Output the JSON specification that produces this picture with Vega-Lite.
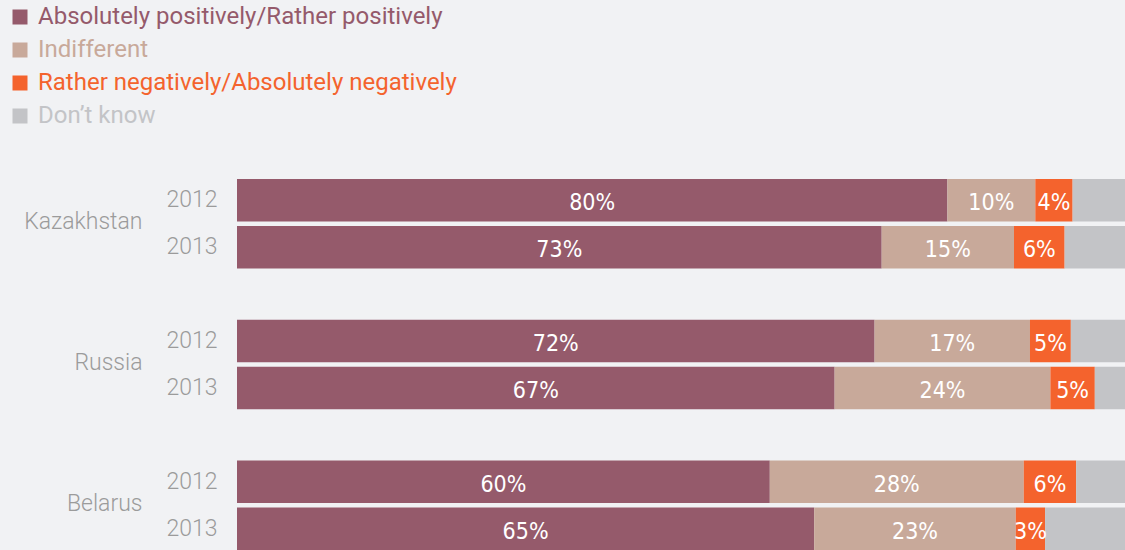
{
  "$schema": "https://vega.github.io/schema/vega-lite/v6.json",
  "autosize": {"type": "none"},
  "width": 888,
  "height": 371,
  "padding": {"left": 237, "top": 179, "right": 0, "bottom": 0},
  "background": "#f1f2f4",
  "config": {"view": {"stroke": null}},
  "data": {"values": [
    {"row": "Kazakhstan|2012", "cat": "Absolutely positively/Rather positively", "k": 1, "value": 80.0, "label": "80%"},
    {"row": "Kazakhstan|2012", "cat": "Indifferent", "k": 2, "value": 9.9, "label": "10%"},
    {"row": "Kazakhstan|2012", "cat": "Rather negatively/Absolutely negatively", "k": 3, "value": 4.2, "label": "4%"},
    {"row": "Kazakhstan|2012", "cat": "Don’t know", "k": 4, "value": 5.9, "label": ""},
    {"row": "Kazakhstan|2013", "cat": "Absolutely positively/Rather positively", "k": 1, "value": 72.6, "label": "73%"},
    {"row": "Kazakhstan|2013", "cat": "Indifferent", "k": 2, "value": 14.9, "label": "15%"},
    {"row": "Kazakhstan|2013", "cat": "Rather negatively/Absolutely negatively", "k": 3, "value": 5.7, "label": "6%"},
    {"row": "Kazakhstan|2013", "cat": "Don’t know", "k": 4, "value": 6.8, "label": ""},
    {"row": "Russia|2012", "cat": "Absolutely positively/Rather positively", "k": 1, "value": 71.8, "label": "72%"},
    {"row": "Russia|2012", "cat": "Indifferent", "k": 2, "value": 17.5, "label": "17%"},
    {"row": "Russia|2012", "cat": "Rather negatively/Absolutely negatively", "k": 3, "value": 4.6, "label": "5%"},
    {"row": "Russia|2012", "cat": "Don’t know", "k": 4, "value": 6.1, "label": ""},
    {"row": "Russia|2013", "cat": "Absolutely positively/Rather positively", "k": 1, "value": 67.3, "label": "67%"},
    {"row": "Russia|2013", "cat": "Indifferent", "k": 2, "value": 24.3, "label": "24%"},
    {"row": "Russia|2013", "cat": "Rather negatively/Absolutely negatively", "k": 3, "value": 5.0, "label": "5%"},
    {"row": "Russia|2013", "cat": "Don’t know", "k": 4, "value": 3.4, "label": ""},
    {"row": "Belarus|2012", "cat": "Absolutely positively/Rather positively", "k": 1, "value": 60.0, "label": "60%"},
    {"row": "Belarus|2012", "cat": "Indifferent", "k": 2, "value": 28.6, "label": "28%"},
    {"row": "Belarus|2012", "cat": "Rather negatively/Absolutely negatively", "k": 3, "value": 5.9, "label": "6%"},
    {"row": "Belarus|2012", "cat": "Don’t know", "k": 4, "value": 5.5, "label": ""},
    {"row": "Belarus|2013", "cat": "Absolutely positively/Rather positively", "k": 1, "value": 65.0, "label": "65%"},
    {"row": "Belarus|2013", "cat": "Indifferent", "k": 2, "value": 22.7, "label": "23%"},
    {"row": "Belarus|2013", "cat": "Rather negatively/Absolutely negatively", "k": 3, "value": 3.3, "label": "3%"},
    {"row": "Belarus|2013", "cat": "Don’t know", "k": 4, "value": 9.0, "label": ""}
  ]},
  "transform": [
    {"stack": "value", "groupby": ["row"], "sort": [{"field": "k", "order": "ascending"}], "as": ["v0", "v1"]},
    {"calculate": "(datum.v0 + datum.v1) / 2", "as": "mid"}
  ],
  "layer": [
    {
      "mark": {"type": "bar"},
      "encoding": {
        "y": {
          "field": "row", "type": "nominal",
          "scale": {
            "domain": ["Kazakhstan|2012", "Kazakhstan|2013", "gap1", "Russia|2012", "Russia|2013", "gap2", "Belarus|2012", "Belarus|2013"],
            "paddingInner": 0.0915, "paddingOuter": 0
          },
          "axis": {
            "title": null, "ticks": false, "domain": false, "grid": false,
            "labelExpr": "indexof(datum.value, '|') > 0 ? split(datum.value, '|')[1] : ''",
            "labelFont": "Roboto", "labelFontSize": 23, "labelColor": "#9b9b9b",
            "labelPadding": 20, "labelFontWeight": 300
          }
        },
        "x": {"field": "v0", "type": "quantitative", "scale": {"domain": [0, 100], "nice": false}, "axis": null},
        "x2": {"field": "v1"},
        "color": {
          "field": "cat", "type": "nominal",
          "scale": {
            "domain": ["Absolutely positively/Rather positively", "Indifferent", "Rather negatively/Absolutely negatively", "Don’t know"],
            "range": ["#955a6b", "#c8a99a", "#f4632d", "#c3c4c7"]
          },
          "legend": {
            "title": null, "orient": "none", "legendX": -229, "legendY": -174,
            "symbolType": "square", "symbolSize": 225, "symbolStrokeWidth": 0, "symbolOpacity": 1,
            "labelFont": "Roboto", "labelFontSize": 24, "labelLimit": 600,
            "labelColor": {"expr": "scale('color', datum.value)"},
            "rowPadding": 9, "labelOffset": 6
          }
        }
      }
    },
    {
      "transform": [{"filter": "datum.label != ''"}],
      "mark": {"type": "text", "color": "white", "font": "DejaVu Sans Condensed", "fontSize": 23, "align": "center", "baseline": "middle", "dy": 3},
      "encoding": {
        "y": {
          "field": "row", "type": "nominal",
          "axis": {
            "title": null, "ticks": false, "domain": false, "grid": false, "orient": "left",
            "labelExpr": "indexof(datum.value, '|2012') > 0 ? split(datum.value, '|')[0] : ''",
            "labelFont": "Roboto", "labelFontSize": 23, "labelColor": "#9b9b9b", "labelFontWeight": 300,
            "labelOffset": 22, "labelPadding": 26, "offset": 69
          }
        },
        "x": {"field": "mid", "type": "quantitative"},
        "text": {"field": "label"}
      }
    }
  ],
  "resolve": {"axis": {"y": "independent"}}
}
